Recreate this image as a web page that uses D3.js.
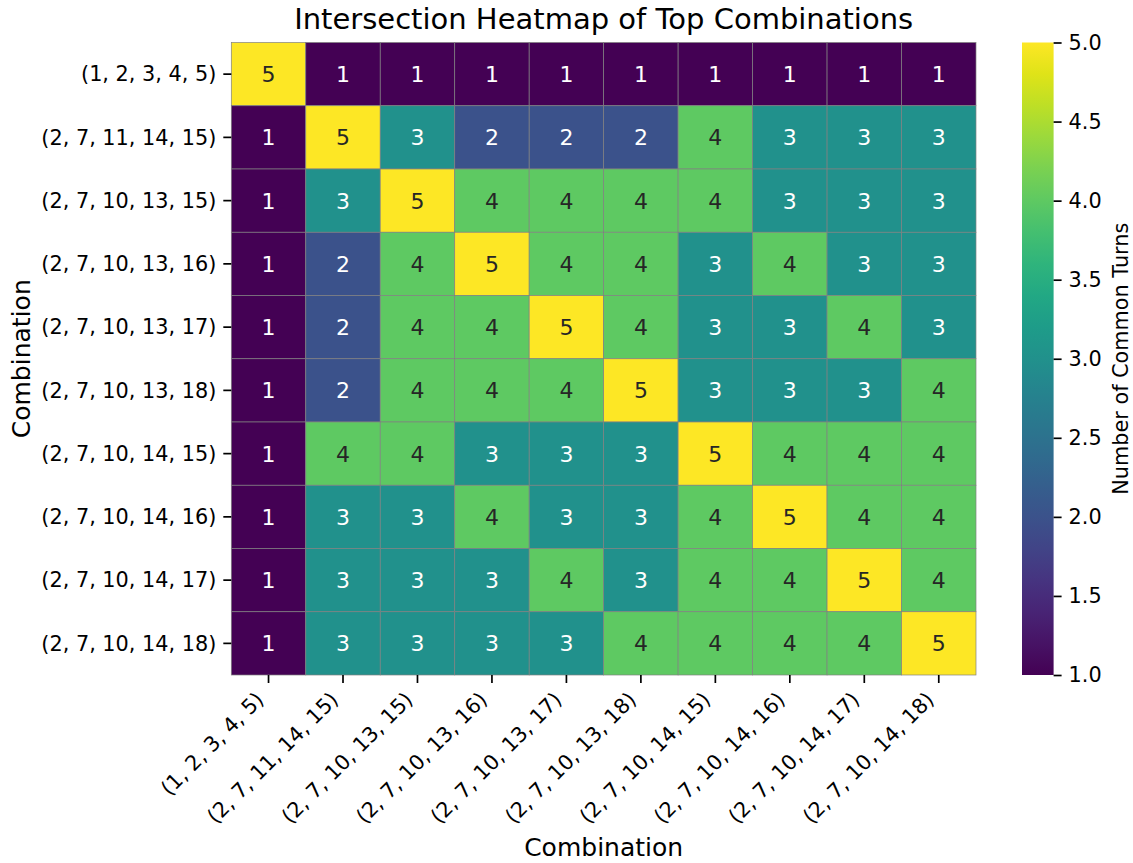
<!DOCTYPE html>
<html>
<head>
<meta charset="utf-8">
<script src="https://cdn.jsdelivr.net/npm/d3@7/dist/d3.min.js"></script>
<style>
  html, body { margin: 0; padding: 0; background: #fff; }
  text { font-family: "DejaVu Sans", sans-serif; }
</style>
</head>
<body>
<svg id="chart" width="1133" height="863"></svg>
<script>
const combinations = [
  "(1, 2, 3, 4, 5)",
  "(2, 7, 11, 14, 15)",
  "(2, 7, 10, 13, 15)",
  "(2, 7, 10, 13, 16)",
  "(2, 7, 10, 13, 17)",
  "(2, 7, 10, 13, 18)",
  "(2, 7, 10, 14, 15)",
  "(2, 7, 10, 14, 16)",
  "(2, 7, 10, 14, 17)",
  "(2, 7, 10, 14, 18)"
];
const row0 = [5, 1, 1, 1, 1, 1, 1, 1, 1, 1];
const row1 = [1, 5, 3, 2, 2, 2, 4, 3, 3, 3];
const row2 = [1, 3, 5, 4, 4, 4, 4, 3, 3, 3];
const row3 = [1, 2, 4, 5, 4, 4, 3, 4, 3, 3];
const row4 = [1, 2, 4, 4, 5, 4, 3, 3, 4, 3];
const row5 = [1, 2, 4, 4, 4, 5, 3, 3, 3, 4];
const row6 = [1, 4, 4, 3, 3, 3, 5, 4, 4, 4];
const row7 = [1, 3, 3, 4, 3, 3, 4, 5, 4, 4];
const row8 = [1, 3, 3, 3, 4, 3, 4, 4, 5, 4];
const row9 = [1, 3, 3, 3, 3, 4, 4, 4, 4, 5];
const matrix = [row0, row1, row2, row3, row4, row5, row6, row7, row8, row9];
const colorbarTicks = [1.0, 1.5, 2.0, 2.5, 3.0, 3.5, 4.0, 4.5, 5.0];

const title = "Intersection Heatmap of Top Combinations";
const xLabel = "Combination";
const yLabel = "Combination";
const cbLabel = "Number of Common Turns";

const svg = d3.select("#chart");
const L = 231.3, R = 976, T = 42.5, B = 675;
const tickFont = 20.8;

const x = d3.scaleBand().domain(combinations).range([L, R]).padding(0);
const y = d3.scaleBand().domain(combinations).range([T, B]).padding(0);
const vmin = 1, vmax = 5;
const color = v => d3.interpolateViridis((v - vmin) / (vmax - vmin));

const cells = [];
matrix.forEach((row, i) => row.forEach((v, j) => cells.push({r: combinations[i], c: combinations[j], v})));

svg.append("rect").attr("width", 1133).attr("height", 863).attr("fill", "#fff");

const g = svg.append("g");
g.selectAll("rect.cell").data(cells).enter().append("rect")
  .attr("class", "cell")
  .attr("x", d => x(d.c)).attr("y", d => y(d.r))
  .attr("width", x.bandwidth()).attr("height", y.bandwidth())
  .attr("fill", d => color(d.v))
  .attr("stroke", "#808080").attr("stroke-width", 0.7);

function lum(c) {
  const rgb = d3.rgb(c);
  const f = u => { u /= 255; return u <= 0.03928 ? u / 12.92 : Math.pow((u + 0.055) / 1.055, 2.4); };
  return 0.2126 * f(rgb.r) + 0.7152 * f(rgb.g) + 0.0722 * f(rgb.b);
}
g.selectAll("text.annot").data(cells).enter().append("text")
  .attr("class", "annot")
  .attr("x", d => x(d.c) + x.bandwidth() / 2)
  .attr("y", d => y(d.r) + y.bandwidth() / 2)
  .attr("dy", "0.36em")
  .attr("text-anchor", "middle")
  .attr("font-size", 22)
  .attr("fill", d => lum(color(d.v)) > 0.408 ? "#262626" : "#ffffff")
  .text(d => d.v);

// X axis
const xAxis = svg.append("g").attr("transform", `translate(0,${B})`)
  .call(d3.axisBottom(x).tickSize(8).tickSizeOuter(0).tickFormat(""));
xAxis.select(".domain").remove();
xAxis.selectAll(".tick line").attr("stroke", "#000").attr("stroke-width", 1.7);
xAxis.selectAll(".tick").append("text")
  .attr("fill", "#000")
  .attr("font-size", tickFont)
  .attr("text-anchor", "end")
  .attr("transform", "translate(-3.5,26) rotate(-45)")
  .text(d => d);

// Y axis
const yAxis = svg.append("g").attr("transform", `translate(${L},0)`)
  .call(d3.axisLeft(y).tickSize(8).tickSizeOuter(0).tickFormat(""));
yAxis.select(".domain").remove();
yAxis.selectAll(".tick line").attr("stroke", "#000").attr("stroke-width", 1.7);
yAxis.selectAll(".tick").append("text")
  .attr("fill", "#000")
  .attr("font-size", tickFont)
  .attr("text-anchor", "end")
  .attr("x", -15)
  .attr("dy", "0.35em")
  .text(d => d);

// Title and labels
svg.append("text").attr("x", (L + R) / 2).attr("y", 29)
  .attr("text-anchor", "middle").attr("font-size", 29).attr("fill", "#000").text(title);
svg.append("text").attr("x", (L + R) / 2).attr("y", 856)
  .attr("text-anchor", "middle").attr("font-size", 25).attr("fill", "#000").text(xLabel);
svg.append("text").attr("transform", `translate(30,${(T + B) / 2}) rotate(-90)`)
  .attr("text-anchor", "middle").attr("font-size", 25).attr("fill", "#000").text(yLabel);

// Colorbar
const cbL = 1022, cbW = 31.6;
const defs = svg.append("defs");
const grad = defs.append("linearGradient").attr("id", "vir")
  .attr("x1", 0).attr("y1", 1).attr("x2", 0).attr("y2", 0);
d3.range(0, 1.0001, 0.05).forEach(t => {
  grad.append("stop").attr("offset", t).attr("stop-color", d3.interpolateViridis(t));
});
svg.append("rect").attr("x", cbL).attr("y", T).attr("width", cbW).attr("height", B - T)
  .attr("fill", "url(#vir)");
const cy = d3.scaleLinear().domain([vmin, vmax]).range([B, T]);
const cbAxis = svg.append("g").attr("transform", `translate(${cbL + cbW},0)`)
  .call(d3.axisRight(cy).tickValues(colorbarTicks).tickSize(8).tickPadding(7).tickFormat(d3.format(".1f")));
cbAxis.select(".domain").remove();
cbAxis.selectAll(".tick line").attr("stroke", "#000").attr("stroke-width", 1.7);
cbAxis.selectAll(".tick text").attr("fill", "#000").attr("font-size", tickFont)
  .attr("font-family", "DejaVu Sans");
svg.append("text").attr("transform", `translate(1128,${(T + B) / 2}) rotate(-90)`)
  .attr("text-anchor", "middle").attr("font-size", tickFont).attr("fill", "#000").text(cbLabel);
</script>
</body>
</html>
